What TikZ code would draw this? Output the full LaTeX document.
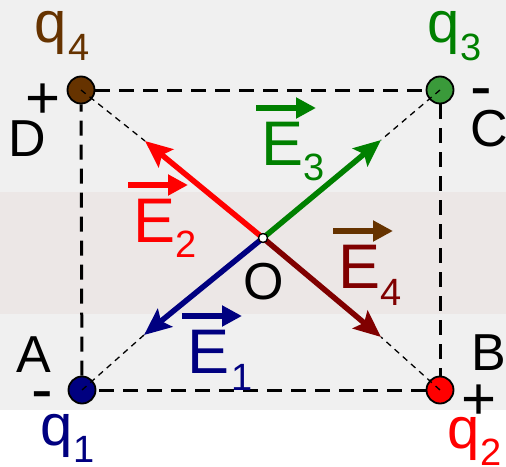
\documentclass[tikz,border=0pt]{standalone}
\usepackage{fontspec}
\setmainfont{Liberation Sans}
\usetikzlibrary{arrows.meta,calc}
\definecolor{qbrown}{RGB}{102,51,0}
\definecolor{qgreen}{RGB}{0,128,0}
\definecolor{qgreenfill}{RGB}{58,154,58}
\definecolor{qnavy}{RGB}{0,0,128}
\definecolor{qred}{RGB}{255,0,0}
\definecolor{qmaroon}{RGB}{128,0,0}
\definecolor{bggray}{RGB}{240,240,240}
\definecolor{bgband}{RGB}{236,231,230}
\newcommand{\lowsub}[2]{\raisebox{-#1pt}{\fontsize{38}{38}\selectfont #2}}
\begin{document}
\begin{tikzpicture}[x=1pt,y=-1pt,
  charge/.style={circle,draw=black,line width=1.8pt,minimum size=27pt,inner sep=0pt},
  odot/.style={circle,draw=black,fill=white,line width=1.3pt,minimum size=9pt,inner sep=0pt},
  sideline/.style={draw=black,line width=3pt,dash pattern=on 15pt off 9pt},
  diagline/.style={draw=black,line width=1.3pt,dash pattern=on 6pt off 5pt},
  field/.style={line width=5.5pt,-{Stealth[length=27pt,width=23pt,inset=5pt]}},
  vecarr/.style={line width=6pt,-{Triangle[length=20pt,width=20pt]}},
  ptlbl/.style={inner sep=0pt,font=\fontsize{52}{52}\selectfont},
  qlbl/.style={inner sep=0pt,anchor=base west,font=\fontsize{58}{58}\selectfont},
  elbl/.style={inner sep=0pt,anchor=base west,font=\fontsize{63}{63}\selectfont},
  plus/.style={inner sep=0pt,anchor=base,font=\fontsize{60}{60}\selectfont},
  minus/.style={inner sep=0pt,anchor=base,font=\fontsize{65}{65}\selectfont}]
\useasboundingbox (0,0) rectangle (506,466);
% background
\fill[white] (0,0) rectangle (506,466);
\fill[bggray] (0,0) rectangle (506,410);
\fill[bgband] (0,192) rectangle (506,314);
% charges
\node[charge,fill=qbrown] (q4) at (81,90) {};
\node[charge,fill=qgreenfill] (q3) at (440,90) {};
\node[charge,fill=qnavy] (q1) at (82,390) {};
\node[charge,fill=qred] (q2) at (440,390) {};
% square
\draw[sideline] (q4) -- (q3);
\draw[sideline] (q3) -- (q2);
\draw[sideline] (q2) -- (q1);
\draw[sideline] (q1) -- (q4);
% arrow tips and centre
\coordinate (o) at (263,238);
\coordinate (t2) at (145,141);
\coordinate (t3) at (381,140);
\coordinate (t1) at (144,335);
\coordinate (t4) at (381,337);
% thin diagonals
\draw[diagline] (q4.center) -- (t2);
\draw[diagline] (q3.center) -- (t3);
\draw[diagline] (q1.center) -- (t1);
\draw[diagline] (q2.center) -- (t4);
% field arrows
\draw[field,qred] (o) -- (t2);
\draw[field,qgreen] (o) -- (t3);
\draw[field,qnavy] (o) -- (t1);
\draw[field,qmaroon] (o) -- (t4);
\node[odot] (O) at (o) {};
% point labels
\node[ptlbl] (lD) at (27.5,138.5) {D};
\node[ptlbl] (lC) at (489,129) {C};
\node[ptlbl] (lA) at (33.5,354.5) {A};
\node[ptlbl] (lB) at (489,353) {B};
\node[ptlbl] (lO) at (264,282) {O};
% charge labels
\node[qlbl,text=qbrown] (n4) at (34.5,42) {q\kern2pt\lowsub{18}{4}};
\node[qlbl,text=qgreen] (n3) at (427.5,42) {q\kern1pt\lowsub{18}{3}};
\node[qlbl,text=qnavy] (n1) at (40.5,445) {q\kern1pt\lowsub{17}{1}};
\node[qlbl,text=qred] (n2) at (447.5,448) {q\kern1pt\lowsub{17}{2}};
% signs
\node[plus] (s4) at (43,118) {+};
\node[minus] (s3) at (481,108) {-};
\node[minus] (s1) at (42.5,411) {-};
\node[plus] (s2) at (479,419) {+};
% field labels
\node[elbl,text=qgreen] (E3) at (261,165) {E\lowsub{15}{3}};
\node[elbl,text=qred] (E2) at (133,242) {E\lowsub{15}{2}};
\node[elbl,text=qnavy] (E1) at (187,373) {E\kern2pt\lowsub{17}{1}};
\node[elbl,text=qmaroon] (E4) at (338,288) {E\lowsub{17}{4}};
\draw[vecarr,qgreen] ($(E3.base west)+(-5,-57)$) -- ++(60,0);
\draw[vecarr,qred] ($(E2.base west)+(-5,-57)$) -- ++(60,0);
\draw[vecarr,qnavy] ($(E1.base west)+(-5,-57)$) -- ++(60,0);
\draw[vecarr,qbrown] ($(E4.base west)+(-5,-57)$) -- ++(60,0);
\end{tikzpicture}
\end{document}
